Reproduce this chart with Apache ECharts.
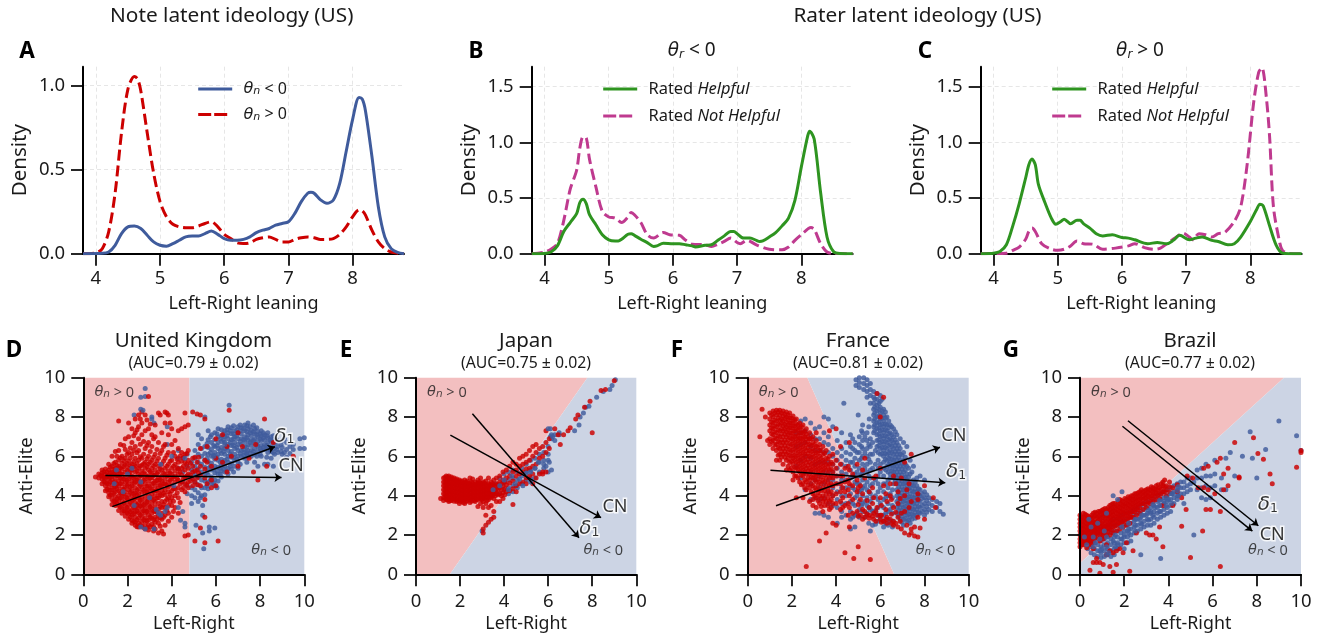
<!DOCTYPE html>
<html><head><meta charset="utf-8">
<style>html,body{margin:0;padding:0;background:#fff}#c{width:1332px;height:639px}</style>
<script src="https://cdn.jsdelivr.net/npm/echarts@6/dist/echarts.min.js"></script>
</head><body><div id="c"></div>
<script>
// ---------- density curves [leaning, density]
const noteNeg=[[3.8,0],[4.1,.002],[4.2,.01],[4.3,.05],[4.4,.12],[4.5,.16],[4.6,.165],[4.7,.15],[4.8,.11],[4.9,.07],[5,.05],[5.1,.045],[5.2,.06],[5.3,.08],[5.4,.1],[5.5,.105],[5.6,.105],[5.7,.12],[5.8,.135],[5.9,.115],[6,.09],[6.1,.08],[6.2,.08],[6.3,.085],[6.4,.1],[6.5,.125],[6.6,.14],[6.7,.15],[6.8,.17],[6.9,.18],[7,.19],[7.1,.24],[7.2,.31],[7.3,.36],[7.35,.365],[7.4,.36],[7.5,.32],[7.6,.3],[7.7,.32],[7.8,.42],[7.9,.61],[8,.8],[8.1,.93],[8.15,.92],[8.2,.85],[8.3,.58],[8.4,.28],[8.5,.1],[8.6,.03],[8.7,.008],[8.8,0]];
const notePos=[[3.8,0],[4,.005],[4.1,.03],[4.2,.13],[4.3,.36],[4.4,.72],[4.5,.98],[4.6,1.055],[4.65,1.04],[4.7,.97],[4.8,.72],[4.9,.48],[5,.31],[5.1,.22],[5.2,.175],[5.3,.16],[5.4,.155],[5.5,.155],[5.6,.165],[5.7,.18],[5.8,.19],[5.9,.16],[6,.115],[6.1,.09],[6.2,.065],[6.3,.06],[6.4,.065],[6.5,.085],[6.6,.095],[6.7,.1],[6.8,.085],[6.9,.07],[7,.07],[7.1,.085],[7.2,.095],[7.3,.1],[7.4,.095],[7.5,.085],[7.6,.085],[7.7,.09],[7.8,.115],[7.9,.16],[8,.22],[8.1,.26],[8.15,.255],[8.2,.23],[8.3,.14],[8.4,.07],[8.5,.03],[8.6,.01],[8.7,.003],[8.8,0]];
const leftHelpful=[[3.8,0],[4,.002],[4.1,.015],[4.2,.07],[4.3,.2],[4.4,.28],[4.5,.36],[4.55,.46],[4.6,.49],[4.65,.45],[4.7,.35],[4.8,.26],[4.9,.17],[5,.125],[5.1,.115],[5.15,.115],[5.2,.13],[5.3,.175],[5.35,.18],[5.4,.165],[5.5,.13],[5.6,.1],[5.7,.065],[5.75,.07],[5.85,.095],[6,.09],[6.1,.09],[6.2,.08],[6.3,.07],[6.35,.06],[6.5,.075],[6.6,.08],[6.7,.12],[6.8,.16],[6.9,.2],[6.95,.2],[7,.18],[7.1,.14],[7.2,.14],[7.3,.12],[7.35,.11],[7.4,.115],[7.5,.15],[7.6,.19],[7.7,.25],[7.8,.32],[7.9,.48],[8,.78],[8.1,1.06],[8.13,1.1],[8.2,1.03],[8.3,.55],[8.4,.15],[8.5,.02],[8.6,.002],[8.8,0]];
const leftNot=[[3.8,0],[4,.015],[4.1,.04],[4.2,.09],[4.3,.3],[4.4,.58],[4.5,.75],[4.55,.95],[4.6,1.05],[4.65,1.04],[4.7,.85],[4.8,.6],[4.9,.38],[5,.33],[5.1,.32],[5.2,.28],[5.3,.33],[5.35,.37],[5.4,.35],[5.5,.28],[5.6,.17],[5.7,.14],[5.85,.19],[5.95,.17],[6.1,.165],[6.2,.12],[6.3,.085],[6.5,.08],[6.6,.065],[6.7,.085],[6.8,.11],[6.9,.14],[7,.1],[7.05,.09],[7.15,.12],[7.3,.08],[7.5,.04],[7.7,.035],[7.8,.06],[7.9,.12],[8,.17],[8.15,.235],[8.2,.22],[8.3,.09],[8.4,.015],[8.5,.002],[8.8,0]];
const rightHelpful=[[3.8,0],[4,.005],[4.1,.02],[4.2,.08],[4.3,.25],[4.4,.45],[4.5,.68],[4.55,.8],[4.6,.85],[4.65,.8],[4.7,.62],[4.8,.46],[4.9,.32],[4.97,.265],[5.05,.29],[5.1,.31],[5.2,.27],[5.3,.3],[5.35,.3],[5.4,.27],[5.5,.23],[5.6,.18],[5.7,.16],[5.85,.17],[6,.145],[6.1,.14],[6.2,.125],[6.4,.09],[6.55,.1],[6.7,.09],[6.8,.12],[6.9,.165],[7.05,.125],[7.15,.14],[7.25,.15],[7.4,.12],[7.5,.11],[7.65,.08],[7.75,.09],[7.85,.15],[8,.29],[8.1,.4],[8.15,.445],[8.2,.43],[8.3,.25],[8.4,.08],[8.5,.005],[8.6,0],[8.8,0]];
const rightNot=[[3.8,0],[4.2,.005],[4.3,.03],[4.4,.06],[4.5,.13],[4.55,.2],[4.6,.23],[4.65,.2],[4.75,.09],[4.9,.04],[5,.03],[5.1,.04],[5.2,.07],[5.3,.115],[5.4,.09],[5.55,.085],[5.7,.04],[5.9,.05],[6.1,.07],[6.2,.09],[6.35,.055],[6.5,.04],[6.6,.05],[6.7,.09],[6.85,.15],[6.95,.185],[7.05,.15],[7.1,.125],[7.2,.18],[7.3,.17],[7.4,.15],[7.5,.18],[7.6,.19],[7.75,.29],[7.85,.42],[7.95,.8],[8.05,1.35],[8.13,1.63],[8.18,1.67],[8.25,1.4],[8.3,1.05],[8.36,.42],[8.45,.12],[8.5,.03],[8.6,.002],[8.8,0]];

// ---------- scatter clouds, one row per Left-Right value: [x, y, y, ...]
const ukBlueBack=[[2.8,9.45,9.05],[2.6,9,8.4],[3.1,8],[2.3,8.1],[3.2,7.7],[3.8,7.5,6.6],[4.3,6.3,5.9,5.4],[4.5,5.9,5.2,4.7],[4.7,6.1,5.5,5,4.5,4.1],[4.9,5.7,5.3,4.9,4.4,4,3.6],[5.05,6.3,5.9,5.5,5.1,4.7,4.3,3.9],[5.2,7.1,6.6,6.1,5.7,5.35,4.95,4.55,4.15,3.7],[5.35,6.9,6.4,6,5.6,5.2,4.8,4.4,4],[5.5,8,6.5,6.15,5.8,5.45,5.1,4.75,4.4,4.05],[5.65,7.3,6.85,6.45,6.1,5.75,5.4,5.05,4.7,4.35],[5.8,7.1,6.7,6.35,6,5.65,5.3,4.95,4.6],[5.95,7.2,6.85,6.5,6.2,5.85,5.5,5.15,4.8,4.5],[6.1,7.4,7,6.7,6.4,6.1,5.8,5.45,5.1,4.75],[6.25,7.35,7.05,6.75,6.45,6.15,5.85,5.55,5.25,4.95],[6.4,7.3,7,6.7,6.4,6.1,5.8,5.5,5.2],[6.55,7.5,7.2,6.9,6.6,6.3,6,5.7,5.4,5.1],[6.6,8.6],[6.7,7.45,7.15,6.85,6.55,6.25,5.95,5.65,5.35],[6.85,7.3,7,6.7,6.4,6.1,5.8,5.5],[7,7.5,7.2,6.9,6.6,6.3,6,5.7,5.4],[7.15,7.45,7.15,6.9,6.6,6.3,6],[7.3,7.6,7.3,7,6.75,6.5,6.2,5.9],[7.45,7.7,7.4,7.1,6.85,6.6,6.3,6],[7.6,7.3,7.05,6.8,6.55,6.3,6],[7.75,7.4,7.15,6.9,6.65,6.4,6.1,5.7],[7.9,7.25,7,6.75,6.5,6.25,5.5],[8.05,7.3,7.05,6.8,6.55,6.3,6],[8.2,7.1,6.85,6.6,6.35,5.6],[8.35,7.2,6.95,6.7,6.45,6.2,5.6],[8.5,7,6.75,6.5,6.25,5.9],[8.65,6.9,6.65,6.4,6.1],[8.8,6.75,6.5,6.2],[9,6.8,6.45,6.1],[9.2,6.7,6.35,5.95],[9.5,6.6,6.35],[9.8,6.9,6.4],[10,6.95,6.4],[5.4,3.5,3,2.1],[5.45,1.3],[5.7,2.4,2.2],[5.95,2.35],[4.6,2.6,2.4],[4.4,2.75],[5.1,2.5]];
const ukBlueFill=[[5.6,6.65,5.9,5.2,4.5],[5.75,7,6.2,5.5,4.8],[5.9,6.55,6.05,5.35,4.65],[6.05,7.15,6.55,5.95,5.25,4.4],[6.2,6.9,6.3,5.7,5.1],[6.35,7.15,6.85,6.25,5.65,5.35],[6.5,7.35,7.05,6.45,5.85,5.25],[6.65,7.3,6.7,6.1,5.5],[6.8,7.55,7.15,6.55,5.95,5.2],[6.95,7.35,7.05,6.45,5.85],[7.1,7.6,7.3,6.75,6.15,5.6],[7.25,7.4,6.85,6.35,6.05],[7.4,7.55,7.25,6.95,6.45,6.1,5.7],[7.55,7.5,7.2,6.7,6.15],[7.7,7.6,7.25,6.8,6.25],[7.85,7.45,7.1,6.6,6],[8,7.15,6.9,6.4,6.1],[8.15,7.2,6.95,6.45],[8.3,7.05,6.55,5.95],[8.45,6.85,6.35],[8.6,7.05,6.75,6.2,5.5],[8.75,6.85,6.35],[8.95,6.6,6.25],[9.1,6.9,6.2],[9.35,6.5,6.15]];
const ukRed=[[.55,4.95],[.7,5.1,4.9],[.85,5.3,5.15,5,4.85,4.6],[1,5.35,5.1,4.9,4.7,4.5,4.25],[1.15,5.6,5.3,5.05,4.85,4.6,4.4,4.15,3.95],[1.3,6,5.5,5.2,5,4.8,4.55,4.3,4.05,3.8,3.55],[1.45,6.25,5.7,5.4,5.15,4.9,4.7,4.45,4.2,3.95,3.7,3.5],[1.6,7.8,6.3,5.8,5.5,5.25,5,4.75,4.5,4.25,4,3.75,3.5,3.25],[1.75,6,5.65,5.35,5.1,4.85,4.6,4.35,4.1,3.85,3.6,3.35,3.1],[1.9,6.9,6.35,5.9,5.55,5.2,4.95,4.7,4.45,4.2,3.95,3.7,3.45,3.2,2.95],[2.05,7.7,7,6.2,5.75,5.4,5.1,4.85,4.6,4.3,4.05,3.8,3.55,3.3,3.05,2.8],[2.2,7.4,6.7,6.1,5.6,5.3,5,4.75,4.5,4.25,4,3.75,3.5,3.25,3,2.75,2.6],[2.35,7.9,7.2,6.5,5.9,5.5,5.2,4.95,4.7,4.4,4.15,3.9,3.65,3.4,3.15,2.9,2.65,2.5],[2.5,8.1,7.5,6.9,6.3,5.8,5.4,5.1,4.85,4.6,4.35,4.1,3.85,3.6,3.35,3.1,2.85,2.6,2.4],[2.65,8.25,7.7,7.1,5.9,5.55,5.25,5,4.7,4.45,4.2,3.95,3.7,3.45,3.2,2.95,2.7,2.45],[2.8,8.1,7.3,6.4,5.7,5.4,5.1,4.85,4.6,4.35,4.1,3.85,3.6,3.35,3.1,2.85,2.6,2.3],[2.95,9.05,7.4,6.7,6,5.6,5.3,5,4.75,4.5,4.25,4,3.75,3.5,3.25,3,2.75,2.5,2.25],[3.1,7.1,6.5,5.8,5.4,5.15,4.9,4.6,4.35,4.1,3.85,3.6,3.35,3.1,2.85,2.55],[3.25,7.6,7,6.1,5.6,5.3,5.05,4.75,4.5,4.25,4,3.7,3.45,3.2,2.9,2.65,2.3],[3.4,8.2,6.7,5.9,5.5,5.2,4.9,4.65,4.4,4.15,3.9,3.6,3.3,3,2.6,2.1],[3.55,7.2,6.3,5.6,5.3,5,4.75,4.5,4.25,4,3.7,3.4,3.1,2.8,2.2],[3.7,8.25,7.7,6.6,5.9,5.4,5.1,4.85,4.6,4.3,4.05,3.7,3.4,3,2.5],[3.85,8.1,7.1,6.2,5.6,5.25,5,4.7,4.45,4.2,3.9,3.5,3.1,2.7],[4,7.4,6.6,5.8,5.4,5.1,4.85,4.55,4.25,3.9,3.5,2.9],[4.15,6.8,6,5.6,5.25,5,4.7,4.35,4,3.4],[4.3,7.3,6.4,5.7,5.35,5.1,4.8,4.4,3.9,3.1],[4.45,7.4,6.2,5.75,5.4,5.05,4.7,4.3],[4.6,8.2,7.5,6.1,5.7,5.3,4.95,4.6,4.2,1.95],[4.75,7.6,6.3,5.8,5.4,5.1,4.7,4.4,2],[4.95,8.25,5.9,5.5,5.2,4.85,4.5],[5.05,1.7],[5.15,8.15,5.7,5.3,4.9,4.55],[5.3,8.1,6.4,5.5,5.05,4.5,2.35],[5.5,7.9,5.8,5.35,4.9,3.8,2.9,1.6],[5.6,6.5,5.7,4.6],[5.8,5.5,4.8,4.4],[6,6.9,5.9,4.5],[6.1,1.7],[6.3,7.1,5.7],[6.5,6.5,5.2],[6.6,8.35],[6.7,6],[7,7.2,5.5],[7.2,6.5],[7.5,5.9],[7.7,5.2],[7.8,6.6],[7.9,4.8],[8.2,7.9],[8.3,5.5],[8.6,6.7],[9.5,6]];
const ukRedFill=[[.78,5.02],[.93,5.22,4.92,4.72],[1.07,5.2,4.97,4.62,4.33],[1.22,5.44,5.17,4.93,4.7,4.27,4.02],[1.38,5.63,5.33,5.09,4.67,4.42,4.13,3.71],[1.52,6,5.55,5.27,5.03,4.58,4.34,3.83,3.6],[1.68,6.6,5.92,5.42,5.13,4.88,4.62,4.15,3.9,3.42],[1.83,6.55,5.78,5.47,4.83,4.32,4.07,3.62,3.23],[1.98,6.1,5.63,5.29,4.77,4.52,3.88,3.4,3.13],[2.13,6.42,5.92,5.52,5.22,4.97,4.43,4.17,3.67,3.18,2.92],[2.28,7.05,6.3,5.72,5.44,4.88,4.62,4.08,3.83,3.38,3.08,2.7],[2.43,7.35,6.18,5.63,5.27,4.78,4.28,4.02,3.52,3.22,2.78,2.42],[2.58,7.9,6.62,5.98,5.5,5.03,4.53,3.78,3.48,3.02,2.52],[2.73,6.75,6.1,5.62,5.17,4.78,4.28,3.53,3.23,2.78,2.38],[2.88,7.85,6.55,5.88,5.48,4.97,4.48,4.18,3.68,3.2,2.72,2.38],[3.03,7.65,6.25,5.7,5.22,4.88,4.4,3.92,3.42,2.92,2.42],[3.18,6.9,5.95,5.52,5.02,4.65,4.22,3.78,3.22,2.78,2.42,2.2],[3.33,6.35,5.75,5.12,4.78,4.28,3.88,3.15,2.8],[3.48,8.1,6.15,5.38,4.82,4.52,4.03,3.45,2.88,2.45],[3.63,6.5,5.75,5.15,4.62,4.12,3.55,2.9,2.05],[3.78,8.2,6.05,5.5,5,4.52,3.82,3.25],[3.93,7.7,5.75,5.15,4.78,4.08,3.7],[4.08,6.2,5.5,4.95,4.35,3.72,3.2],[4.25,5.85,5.42,4.85,4.15],[4.38,6,5.2,4.6,3.65],[4.53,5.95,5.5,4.85,4.4],[4.68,6.15,5.6,5,4.55],[4.85,5.65,5.05,4.75],[5.05,5.95,5.25,4.7],[5.22,5.95,5.15]];
const ukBlueFront=[[1.4,4.6],[1.8,4.2],[2,5.1],[2.3,3.5],[2.6,4.7],[2.6,2.4],[2.8,2.3],[3,3.9],[3.2,2.3],[3.3,3.3],[3.4,3.1],[3.5,3],[3.7,3.2],[3.8,3.4],[4,6],[4.1,4.5],[4.3,3.4],[4.5,3.2],[4.6,5.9],[2.7,8.35],[1.5,5.3],[2.2,5.4],[3.5,5.6],[3.1,7.9],[5.3,3.9],[6.4,6.6],[7.4,6.2],[6.8,6.9],[5.9,6],[6.2,5.4]];

const jpBlueBack=[[3.4,4.2,4],[3.6,4.6,4.2],[3.8,4.9,4.5,4.1],[4,5.1,4.7,4.3],[4.2,5.2,4.8,4.4,4.1],[4.4,5.3,4.9,4.5,4.2],[4.6,5.2,4.8,4.4],[4.8,5.4,5,4.6],[5,5.6,5.2,4.8],[5.2,5.8,5.3,4.9],[5.4,5.9,5.4,4.9],[5.6,6.1,5.7,5.2],[5.8,6.2,5.8,5.4],[6,6.5,6.1,5.8,5.2],[6.15,7.1,6.9,5.3],[6.3,7.1,6.8],[6.1,7.4,7],[6.5,7.2,7.1],[7.2,7.3],[7.4,7.6],[7.45,8],[7.6,8.2],[7.7,8.5],[7.85,8.55],[8.2,9],[8.5,9.3],[8.8,9.4],[8.9,9.6],[9.05,9.9],[3,2.2]];
const jpRed=[[1.12,3.85],[1.25,4.9,4.7,4.5,4.3,4.1,3.9,3.75],[1.37,5,4.8,4.6,4.4,4.2,4,3.8],[1.49,5,4.85,4.65,4.45,4.25,4.05,3.85,3.7],[1.61,4.95,4.75,4.55,4.35,4.15,3.95,3.75],[1.73,4.9,4.7,4.5,4.3,4.1,3.9,3.72],[1.85,4.85,4.65,4.45,4.25,4.05,3.85,3.7],[1.97,4.8,4.6,4.4,4.2,4,3.8,3.6],[2.09,4.75,4.55,4.35,4.15,3.95,3.75],[2.21,4.8,4.6,4.4,4.2,4,3.8,3.6],[2.33,4.75,4.55,4.35,4.15,3.95,3.75],[2.45,4.9,4.6,4.4,4.2,4,3.8,3.65],[2.57,4.85,4.65,4.45,4.25,4.05,3.85],[2.69,4.7,4.5,4.3,4.1,3.9,3.7],[2.81,4.8,4.6,4.4,4.2,4,3.8,3.45],[2.93,4.9,4.65,4.45,4.25,4.05,3.85,3.6],[3.05,4.7,4.5,4.3,4.1,3.9,3.7,3.4,2.3,2.1],[3.17,4.75,4.55,4.35,4.15,3.95,3.6,3,2.5],[3.29,4.9,4.6,4.4,4.2,4,3.8,3.4,2.65],[3.41,4.7,4.5,4.3,4.1,3.9,3.5,2.8],[3.53,4.8,4.55,4.3,4.1,3.85,3.2,2.9],[3.65,4.9,4.6,4.35,4.1,3.7],[3.8,5,4.7,4.4,4.1,3.7],[3.95,5.2,4.8,4.5,4.15,3.85],[4.1,5.3,4.9,4.55,4.2],[4.25,5.5,5,4.65,4.25],[4.4,5.7,5.2,4.75,4.35,3.55],[4.55,5.6,5.3,5,4.5,4.2],[4.7,5.9,5.5,5.1,4.6],[4.85,6,5.6,5.2,4.7],[5,6.1,5.7,5.35,4.9,4.6],[5.15,6.3,5.8,5.4,5],[5.3,6.5,6,5.5,5.1,4.6],[5.45,6.6,6.2,5.6,4.9],[5.6,6.4,5.9,5.1],[5.75,6.5,6,5.2,5.1],[5.9,7.3,6.7,6.2,5.2],[6.05,6.9,6.4],[6.3,7.4],[6.45,7.1],[6.55,6.6],[6.7,7.1],[6.9,7.3],[7,7.45],[7.25,7.9],[7.35,8.1],[7.65,8.5],[7.9,8.8],[8,7.2],[8.4,9.35],[8.6,9.4],[9,9.85]];
const jpRedFill=[[1.31,4.92,4.7,4.5,4.3,4.1,3.9],[1.43,4.95,4.75,4.55,4.35,4.15,3.95,3.78],[1.55,4.9,4.7,4.5,4.3,4.1,3.9,3.75],[1.67,4.85,4.65,4.45,4.25,4.05,3.85],[1.79,4.8,4.6,4.4,4.2,4,3.8],[1.91,4.75,4.55,4.35,4.15,3.95,3.75],[2.03,4.7,4.5,4.3,4.1,3.9,3.7],[2.15,4.65,4.45,4.25,4.05,3.85,3.65],[2.27,4.7,4.5,4.3,4.1,3.9,3.7],[2.39,4.65,4.45,4.25,4.05,3.85],[2.51,4.7,4.5,4.3,4.1,3.9,3.72],[2.63,4.55,4.35,4.15,3.95,3.75],[2.75,4.6,4.4,4.2,4,3.8],[2.87,4.7,4.5,4.3,4.1,3.9],[2.99,4.6,4.4,4.2,4,3.8],[3.11,4.65,4.45,4.25,4.05,3.85],[3.23,4.5,4.3,4.1,3.9,3.75],[3.35,4.55,4.35,4.15,3.95],[3.47,4.6,4.4,4.2,4],[3.6,4.45,4.25,4],[3.72,4.55,4.3,4.05],[3.88,4.6,4.3,4],[4.03,4.7,4.35,4.05]];
const jpBlueFront=[[3.5,4.3],[3.8,4.5],[4,4.8],[4.2,4.3],[4.35,5],[4.5,4.6],[4.7,4.85],[4.85,4.5],[5,5.15],[5.2,4.7],[5.4,5.4],[5.55,5.7],[5.8,5.6],[5.9,5.5],[6.05,5.7],[6.2,7],[6,7.4],[5.2,5.2]];

const frRed=[[.55,7],[.65,8.4],[.8,8],[.9,6.8],[1,8.2,7.9,7.6,7.3,6.9,6.6],[1.15,8.3,8,7.7,7.4,7.1,6.8,6.4],[1.3,8.35,8.1,7.8,7.5,7.2,6.9,6.6,6.3,5.8],[1.45,8.35,8.1,7.85,7.6,7.3,7,6.7,6.4,6.1,5.8],[1.6,8.3,8.05,7.8,7.55,7.3,7,6.7,6.4,6.1,5.6],[1.75,8.25,8,7.75,7.5,7.25,7,6.7,6.4,6.1,5.8,5.3],[1.9,8.2,7.95,7.7,7.45,7.2,6.95,6.65,6.35,6.05,5.7,5.3],[2.05,8.05,7.8,7.55,7.3,7.05,6.8,6.5,6.2,5.9,5.6,5.2,4.8],[2.2,7.9,7.65,7.4,7.15,6.9,6.6,6.3,6,5.7,5.4,5,3.9],[2.35,7.7,7.45,7.2,6.95,6.7,6.4,6.1,5.8,5.5,5.2,4.7],[2.5,7.6,7.3,7.05,6.8,6.5,6.2,5.9,5.6,5.3,5,4.6,3.9],[2.65,7.4,7.15,6.9,6.6,6.3,6,5.7,5.4,5.1,4.7,4.3,.4],[2.8,7.2,6.9,6.6,6.3,6,5.7,5.4,5.1,4.8,4.4,3.7],[2.95,7,6.7,6.4,6.1,5.8,5.5,5.2,4.9,4.5,4.1,3.8,3.5],[3.1,7.2,6.8,6.5,6.2,5.9,5.6,5.3,5,4.7,4.3,3.9,3.4],[3.25,6.6,6.3,6,5.7,5.4,5.1,4.7,4.3,4,3.6,1.7],[3.4,6.5,6.1,5.8,5.5,5.2,4.8,4.4,4,3.7,3.2],[3.55,6.3,5.9,5.6,5.3,4.9,4.5,4.1,3.7,2.1],[3.7,7.3,6,5.6,5.3,4.9,4.5,4.1,3.7,3.3],[3.85,6.1,5.6,5.2,4.9,4.5,4,3.6,2.6],[1.08,8.1,7.75,7.45,7.15,6.75],[1.22,8.2,7.85,7.55,7.25,6.95,6.6],[1.38,8.25,7.95,7.65,7.35,7.05,6.75,6.45,6.05],[1.53,8.2,7.9,7.7,7.4,7.15,6.85,6.55,6.25,5.95],[1.68,8.15,7.92,7.62,7.38,7.12,6.82,6.55,6.25,5.95],[1.83,8.1,7.85,7.6,7.35,7.1,6.85,6.5,6.2,5.9,5.5],[1.98,7.95,7.7,7.45,7.18,6.9,6.6,6.3,6,5.75,5.4],[2.13,7.85,7.55,7.3,7,6.7,6.4,6.05,5.8,5.45,5],[2.28,7.6,7.35,7.05,6.8,6.5,6.2,5.9,5.6,5.3,4.9],[2.43,7.5,7.2,6.9,6.6,6.3,6,5.7,5.4,5.05,4.55],[2.58,7.25,7,6.7,6.4,6.1,5.8,5.5,5.2,4.8,4.4],[2.73,7,6.75,6.45,6.15,5.85,5.55,5.25,4.9,4.55],[2.88,6.9,6.55,6.25,5.95,5.6,5.3,4.95,4.6,4.2],[3.03,6.6,6.3,6,5.7,5.4,5.05,4.8,4.4,4],[3.18,6.45,6.15,5.8,5.5,5.2,4.85,4.5,4.15,3.75],[3.33,6.3,5.9,5.6,5.3,4.95,4.6,4.25,3.85,3.45],[3.48,6.15,5.7,5.4,5.05,4.7,4.25,3.85,3.5],[3.63,5.85,5.5,5.1,4.7,4.3,3.9,3.5],[3.78,5.7,5.35,5,4.6,4.2,3.8,3.4]];
const frBlue=[[4.9,9.9,9.6],[5.05,10,9.75,9.5],[5.25,10,9.7,9.4],[5.4,9.9,9.6,9.3,9],[5.55,9.7,9.4,9.1,8.7],[5.7,9.3,9,8.7,8.4,8.1,7.8,7.5,7.2],[5.85,9.2,8.9,8.6,8.3,8,7.7,7.4,7.1,6.8,6.5],[6,9.1,8.8,8.5,8.2,7.9,7.6,7.3,7,6.7,6.4,6.1],[6.15,8.4,8.1,7.8,7.5,7.2,6.9,6.6,6.3,6,5.7],[6.3,8,7.6,7.3,7,6.7,6.4,6.1,5.8,5.5],[6.45,7.6,7.2,6.9,6.6,6.3,6,5.7,5.4,5.1],[6.6,7.4,7,6.7,6.4,6.1,5.8,5.5,5.2,4.9,4.6],[6.75,7.1,6.7,6.4,6.1,5.8,5.5,5.2,4.9,4.6,4.3,4,3.7,3.4,3.1],[6.9,6.9,6.4,6.1,5.8,5.5,5.2,4.9,4.6,4.3,4,3.7,3.4,3.1,2.8],[7.05,6.7,6.2,5.8,5.5,5.2,4.9,4.6,4.3,4,3.7,3.4,3.1,2.8,2.5],[7.2,6.5,5.5,5.1,4.8,4.5,4.2,3.9,3.6,3.3,3,2.7],[7.35,5.8,5.1,4.7,4.4,4.1,3.8,3.5,3.2,2.9,2.6],[7.5,5.5,4.8,4.5,4.2,3.9,3.6,3.3,3],[7.65,4.9,4.5,4.2,3.9,3.6,3.3,3],[7.8,5,4.3,4,3.7,3.4,3.1],[8,4.8,4.2,3.9,3.6,3.3,3],[8.2,3.9,3.6,3.3],[8.35,3.8,3.5,3.2],[8.55,3.7,3.4],[8.7,3.6,3.2],[8.85,3.05],[5.5,7.9],[4.35,8.7],[5,8.1],[5.2,7.6,7.2,6.8,6.4,6,5.6,5.2,4.8,4.4,4,3.6,3.2],[5.4,7.2,6.8,6.4,6,5.6,5.2,4.7,4.3,3.9,3.5,3.1],[5.55,6.9,6.5,6.1,5.7,5.3,4.9,4.5,4.1,3.7,3.3,2.2],[5.05,7,6.6,6.2,5.8,5.4,5,4.6,4.2,3.7,3.3,2.9],[4.85,6.7,6.3,5.9,5.5,5.1,4.7,4.3,3.9,3.5,3,2.4],[4.65,7.1,6.5,6.1,5.7,5.3,4.9,4.5,4.1,3.7,3.2,2.8,2.3],[4.45,6.7,6.2,5.8,5.5,5.1,4.8,4.4,4,3.6,3],[4.25,7.2,6.4,6,5.6,5.2,4.8,4.4,4,3.6,3.2,2.9],[4.05,6.8,6.2,5.8,5.4,5,4.6,4.2,3.8,3.4,2.6],[3.85,7.5,6.4,6,5.6,5.2,4.8,4.4,4,3.5],[3.65,7.9,7,6.6,6.2,5.7,5.2,4.8,4.2,3.6,2.9],[3.45,8,7.2,6.7,6.2,5.7,5.2,4.6,3.9,3],[3.25,7.5,6.9,6.3,5.7,5,4.4,3.8,3.1],[3.05,7.4,6.9,6.3,5.6,4.8,3.9,3.1],[2.85,7.7,7.1,6.5,5.9,5.2,4.6,3.8],[2.6,7.9,7.3,6.7,6,5.2,4.3],[2.4,7.8,7.2,6.6,5.8,4.9],[2.2,7.2,6.5,5.5],[5.9,6.2,5.8,5.4,5,4.6,4.2,3.8,3.4,3,2.7],[6.15,5.4,5,4.6,4.2,3.8,3.4,3,2.7,2.4],[6.35,5.2,4.8,4.4,4,3.6,3.2,2.8,2.5],[6.55,4.3,3.9,3.5,3.1,2.7,2.4]];
const frBlueFill=[[5.75,8.9,8.5,8.2,7.9,7.6,7.3],[5.93,8.7,8.4,8.05,7.75,7.45,7.15,6.85,6.55],[6.08,8.9,8.3,7.95,7.65,7.35,7.05,6.75,6.45,6.15],[6.23,8.25,7.95,7.65,7.35,7.05,6.75,6.45,6.15,5.85],[6.38,7.8,7.45,7.15,6.85,6.55,6.2,5.9,5.6],[6.52,7.5,7.1,6.8,6.5,6.2,5.85,5.55,5.25],[6.68,7.25,6.85,6.55,6.25,5.95,5.65,5.35,5.05,4.75],[6.83,6.55,6.25,5.95,5.65,5.35,5.05,4.75,4.45,4.15,3.85,3.55,3.25,2.95],[6.98,6.05,5.65,5.35,5.05,4.75,4.45,4.15,3.85,3.55,3.25,2.95,2.65],[7.13,5.95,5.6,5.3,4.95,4.65,4.35,4.05,3.75,3.45,3.15,2.85],[7.28,5.4,4.95,4.65,4.35,3.95,3.65,3.35,3.05,2.75],[7.43,5.2,4.55,4.25,3.95,3.65,3.35,3.05,2.8],[7.58,4.7,4.35,4.05,3.75,3.45,3.15,2.85],[7.73,4.35,4.05,3.75,3.45,3.15],[7.9,4.1,3.85,3.5,3.2],[8.1,4.05,3.75,3.45,3.15],[4.75,6.9,6.4,5.7,5,4.4,3.6,2.9],[4.95,6.2,5.2,4.6,4,3.1],[5.15,7.3,6.5,5.9,5.1,4.3,3.5],[5.3,7,6.2,5.4,4.5,3.7,2.9],[5.48,7.5,6.6,5.85,5,4.2,3.4,2.6],[5.65,6.7,6.1,5.4,4.6,3.9,3.2,2.5],[5.78,6.3,5.6,4.8,4,3.25,2.55],[6,5.6,5.2,4.4,3.6,2.9],[6.25,5.3,4.6,3.9,3.1,2.6],[6.45,4.9,4.1,3.3,2.7]];
const frRedTop=[[4,7.4,5.8,5.4,5,4.6,4.1,3.6,2.5],[4.2,6.5,5.6,5,4.6,4.2,3.7,3.3],[4.4,5.4,4.7,4.2,3.5,1.1],[4.6,6.7,5.3,4.6,4,3.4,2.4],[4.8,.8],[4.95,5.6,4.8,4.2,3.2],[5,1.4],[5.1,4.5,3.8,3],[5.3,5.9,4.9,3.2,2.9],[5.5,4.2,3.4,3,2.85],[5.55,.75],[5.7,4.9,3.9,3.1,2.8],[5.85,9.2,3.4,3],[6,8,5.4,3.9,3,2.8],[6.15,9,4.5,2.7],[6.3,3.7,2.9,2.6],[6.45,4.6,4,2.8],[6.6,5,3.4,2.7,2.5],[6.8,4.2,3.6,2.9,2.4],[6.95,4.9,3.1,2.3],[7.1,5.7,4,3.2,2.1],[7.3,4.6,3.4,2],[7.4,6.1,2.1],[7.55,1.95,2.4],[7.7,3.8,1.9],[7.8,2.35],[8,4.5,2.8],[8.4,3.9],[8.5,3.4],[4.3,5,4.4,3.9,3.4],[4.55,5.5,4.8,4.3,3.6,3],[4.75,5.1,4.5,3.8,3.1],[5,4.4,3.55,2.95],[5.2,5.3,4.1,3.3,2.8],[5.4,3.75,3.05],[5.65,4.4,3.6,2.95],[5.8,5,3.2,2.7],[6.05,3.5,3,2.65],[6.25,4.1,3.3,2.8],[6.5,3.8,3.05,2.6],[6.7,4.6,3.15,2.6],[6.9,3.85,2.7],[7.2,4.3,2.5],[7.4,3.7,2.3],[7.7,4.1,2.9]];

const brBlueBack=[[.2,2.1,1.7],[.35,2.2,1.9,1.6,1.3],[.5,2.3,2,1.7,1.4,1.1],[.65,2.2,1.9,1.6,1.3,1],[.8,2.4,2.1,1.8,1.5,1.2,.9],[.95,2.3,2,1.7,1.4,1.1,.85],[1.1,2.4,2.1,1.8,1.5,1.2,.9],[1.25,2.5,2.2,1.9,1.6,1.3,1],[1.4,2.7,2.4,2.1,1.8,1.5,1.2,.9],[1.55,2.8,2.5,2.2,1.9,1.6,1.3,1],[1.7,2.8,2.5,2.2,1.9,1.6,1.3],[1.85,3,2.7,2.4,2.1,1.8,1.5],[2,3.1,2.8,2.5,2.2,1.9,1.6,1.3],[2.15,3.1,2.8,2.5,2.2,1.9,1.6],[2.3,3.2,2.9,2.6,2.3,2,1.7],[2.45,3.3,3,2.7,2.4,2.1],[2.6,3.4,3.1,2.8,2.5,2.2],[2.75,3.5,3.2,2.9,2.6,2.3,1],[2.9,3.6,3.3,3,2.7,2.4],[3.05,3.7,3.4,3.1,2.8,2.5],[3.2,3.7,3.4,3.1,2.8,2.5],[3.35,3.8,3.5,3.2,2.9,2.6],[3.5,4,3.7,3.4,3.1,2.8],[3.65,4.1,3.8,3.5,3.2,2.9,.8],[3.8,4.2,3.9,3.6,3.3,3],[3.95,4.3,4,3.7,3.4,3.1],[4.1,4.4,4.1,3.8,3.5,3.2],[4.25,4.5,4.2,3.9,3.6],[4.4,4.6,4.3,4,3.8],[4.55,4.7,4.4,4.1],[4.7,4.7,4.4,4.1,3.6],[4.85,4.9,4.5,4.2],[5,4.6,4.3,4.9],[5.15,4.7,2],[5.3,5.3,4.9,4.3],[5.5,5.4,4.9,4.4,3.9],[5.7,5.6,5,4.5,3.8],[5.9,5,4.4,3.9],[6.1,5.8,5.1,4.5],[6.4,4.9,4.3],[6.6,5.9,4.3],[6.8,6.2],[7,5],[7.35,6],[7.7,7.25],[7.8,5.9],[8,4.9],[8.4,6.35],[9,7.8],[9.8,7.05],[10,6.3]];
const brRed=[[0,3,2.8,2.6,2.4,2.2,2,1.8,1.6,1.4],[.15,3.1,2.9,2.7,2.5,2.3,2.1,1.9,1.7,1.5],[.3,3,2.8,2.6,2.4,2.2,2,1.8,1.6,1.35],[.45,2.9,2.7,2.5,2.3,2.1,1.9,1.7,1.5,.2],[.6,3.1,2.9,2.7,2.5,2.3,2.1,1.9,1.7,1.3,.6],[.75,3.1,2.9,2.7,2.5,2.3,2.1,1.9,.6,.8],[.9,3.2,3,2.8,2.6,2.4,2.2,2,1.7,.6,.05],[1.05,3.3,3.1,2.9,2.7,2.5,2.3,2.1,1.8,.5],[1.2,3.3,3.1,2.9,2.7,2.5,2.3,2,1.5,1],[1.35,3.5,3.3,3.1,2.9,2.7,2.5,2.3,2,1.2,.4],[1.5,3.6,3.4,3.2,3,2.8,2.6,2.4,2.1,1.1,.1],[1.65,3.5,3.3,3.1,2.9,2.7,2.5,2.2,1.2,.5],[1.8,3.8,3.6,3.4,3.2,3,2.8,2.6,2.3,1.3],[1.95,3.7,3.5,3.3,3.1,2.9,2.7,2.4,1.1],[2.1,3.8,3.6,3.4,3.2,3,2.8,2.5,1.6],[2.25,3.9,3.7,3.5,3.3,3.1,2.9,2.6,.15],[2.4,4,3.8,3.6,3.4,3.2,2.9,1.2],[2.55,4.1,3.9,3.7,3.5,3.3,3,2.1],[2.7,4.2,4,3.8,3.6,3.4,3.1],[2.85,4.2,4,3.8,3.6,3.3],[3,4.3,4.1,3.9,3.7,3.4,2.1],[3.15,4.3,4.1,3.9,3.6,2],[3.3,4.4,4.2,4,3.7,2],[3.45,4.5,4.3,4.1,3.8,1.8],[3.6,4.4,4.15,3.9,2.4],[3.75,4.7,4.5,4.2,3.5,1.4],[3.9,4.5,4.3,4],[4.05,4.7,4.45,4.2],[4.2,4.4,3.5],[4.4,4.55,4.2],[4.6,3.9,2.45],[4.8,3.3],[4.85,5],[5,.85],[5.1,4.9],[5.35,4.4],[5.55,2.2],[5.6,5.4,4.4],[5.7,3.3],[5.8,5.5,4.3],[5.9,3.3],[6.1,4.1],[6.2,5.7],[6.35,5.9,3.2,.4],[6.5,5.1,4.3],[6.7,5.4,4.5],[7,6.7],[7.2,4.95,4.9],[7.85,6.95],[8.05,6.15],[8.3,5.85],[8.6,5.1],[8.7,4.6],[9.8,5.45],[10,6.3,6.2]];
const brRedFill=[[.08,2.9,2.7,2.5,2.3,2.1,1.9,1.7,1.5],[.23,3.05,2.85,2.65,2.45,2.25,2.05,1.85,1.6],[.38,2.95,2.7,2.5,2.3,2.1,1.85,1.65],[.53,3,2.8,2.6,2.4,2.2,2,1.8,1.55],[.68,3.15,2.95,2.65,2.45,2.25,2.05,1.85],[.83,3.2,2.95,2.75,2.55,2.3,2.1],[.98,3.25,3.05,2.85,2.6,2.4,2.15,1.9],[1.13,3.35,3.1,2.95,2.7,2.45,2.2,1.95],[1.28,3.4,3.2,3,2.8,2.55,2.35,2.15],[1.43,3.55,3.35,3.15,2.95,2.75,2.55,2.25],[1.58,3.6,3.4,3.2,2.95,2.7,2.45],[1.73,3.7,3.45,3.25,3.05,2.85,2.6],[1.88,3.75,3.55,3.35,3.15,2.9,2.65],[2.03,3.85,3.6,3.45,3.2,3,2.7],[2.18,3.95,3.75,3.55,3.35,3.1,2.85],[2.33,4,3.8,3.6,3.4,3.15,2.9],[2.48,4.1,3.85,3.65,3.45,3.2],[2.63,4.15,3.95,3.75,3.55,3.3],[2.78,4.3,4.1,3.85,3.6],[2.93,4.25,4.05,3.85,3.55],[3.08,4.35,4.15,3.95,3.65],[3.23,4.45,4.25,4,3.8],[3.38,4.35,4.15,3.95],[3.53,4.55,4.3,4.05],[3.68,4.6,4.35,4.1],[3.83,4.8,4.45,4.2]];
const brBlueFront=[[.3,1.5],[.7,1.6],[1,1.3],[1.1,2.2],[1.3,1.1],[1.5,1.7],[1.7,3.8,1.5],[2,2],[2.2,2.3,2.6,2.1],[2.5,2.5,2.8,2.2],[2.7,2.8],[2.8,3,2.55],[3,3],[3.1,3.25,2.75],[3.2,3.2],[3.3,3.55,3],[3.4,3.4],[3.6,3.5,3.75,3.2],[3.8,3.7],[3.9,3.9,3.5],[4,3.8],[4.15,4.1,3.6],[4.2,4.1],[4.4,4.25],[4.45,4.45,4],[.8,2.6],[.4,2.8],[1.2,3.1,1.9,1.4,1],[1.5,4],[1.9,4.2,2.4,1.8],[1.6,2,1.4],[.9,1.8,1.2],[.6,1.9,1.4],[.2,1.9],[.5,2.4]];

// ---------- regions (polygons in data coordinates) and arrows [x0,y0,x1,y1]
const ukPink=[[0,0],[4.8,0],[4.8,10],[0,10]], ukSlate=[[4.8,0],[10,0],[10,10],[4.8,10]];
const jpPink=[[0,0],[1.54,0],[7.78,10],[0,10]], jpSlate=[[1.54,0],[10,0],[10,10],[7.78,10]];
const frPink=[[0,0],[6.63,0],[2.7,10],[0,10]], frSlate=[[6.63,0],[10,0],[10,10],[2.7,10]];
const brPink=[[0,.56],[9.23,10],[0,10]], brSlate=[[0,0],[10,0],[10,10],[9.23,10],[0,.56]];
const ukArrows=[[1,5.02,8.97,4.93],[1.31,3.44,8.67,6.49]];
const jpArrows=[[1.56,7.08,8.4,2.88],[2.56,8.17,7.4,1.86]];
const frArrows=[[1.03,5.29,8.94,4.66],[1.28,3.49,8.7,6.46]];
const brArrows=[[2.17,7.81,8.07,2.47],[1.92,7.53,7.8,2.2]];

// ---------- labels
const densityTicks=[4,5,6,7,8], noteYTicks=[0,.5,1], raterYTicks=[0,.5,1,1.5];
const panelLetters=[['A',27,50],['B',476,50],['C',925,50],['D',14,349],['E',346,349],['F',677,349],['G',1011,349]];
const countries=[['United Kingdom','(AUC=0.79 ± 0.02)',193.5],['Japan','(AUC=0.75 ± 0.02)',526],['France','(AUC=0.81 ± 0.02)',858],['Brazil','(AUC=0.77 ± 0.02)',1190]];

const FONT='"Noto Sans"', MATH='"DejaVu Sans"', INK='#1a1a1a';
const BLUE='#3f5b9c', RED='#cc0000', GREEN='#2e9420', MAG='#bf3a8f';
const expand=rows=>rows.flatMap(r=>r.slice(1).map(y=>[r[0],y]));

const legendRich={
  pad:{width:6.3},
  th:{fontFamily:MATH,fontStyle:'italic',fontSize:16,color:INK},
  sub:{fontFamily:MATH,fontStyle:'italic',fontSize:11,color:INK,verticalAlign:'bottom',lineHeight:16,padding:[5,0,0,0]},
  op:{fontFamily:FONT,fontSize:16,color:INK},
  hi:{fontFamily:FONT,fontStyle:'italic',fontSize:16.4,color:INK},
  no:{fontFamily:FONT,fontSize:16.4,color:INK}
};
const theta=(s,c)=>`{th|θ}{sub|${s}}{op| ${c} 0}`;
const rated=n=>n.includes('Not')?'{pad|}{no|Rated }{hi|Not Helpful}':'{pad|}{no|Rated }{hi|Helpful}';

const grid=[],xAxis=[],yAxis=[],series=[],title=[],legend=[];
function axisCommon(margin,z){return{
  z,axisLine:{show:true,onZero:false,lineStyle:{color:'#000',width:2}},
  axisTick:{show:true,length:12,lineStyle:{color:'#000',width:1.7}},
  axisLabel:{color:INK,fontFamily:FONT,fontSize:18.5,margin},
  nameLocation:'middle',nameTextStyle:{color:INK,fontFamily:FONT}
}}
const gridLine={show:true,lineStyle:{color:'#e6e6e6',type:[4,3],width:1}};

function densityPanel(left,yTicks,yMax,nameA,a,colA,nameB,b,colB,legX,legY,fmt,gap){
  const i=grid.length;
  grid.push({left,top:66.7,width:321,height:187});
  const xc=axisCommon(16,1),yc=axisCommon(18,1);
  xc.axisTick.customValues=densityTicks;xc.axisLabel.customValues=densityTicks;
  yc.axisTick.customValues=yTicks;yc.axisLabel.customValues=yTicks;
  xAxis.push({...xc,gridIndex:i,type:'value',min:3.8,max:8.8,name:'Left-Right leaning',nameGap:41,nameTextStyle:{...xc.nameTextStyle,fontSize:18},splitLine:gridLine});
  yc.axisLabel.formatter=v=>v.toFixed(1);
  yAxis.push({...yc,gridIndex:i,type:'value',min:0,max:yMax,name:'Density',nameGap:52,nameTextStyle:{...yc.nameTextStyle,fontSize:20.5},splitLine:gridLine});
  const ser=(name,data,color,dash)=>({type:'line',name,xAxisIndex:i,yAxisIndex:i,data,smooth:.3,symbol:'none',lineStyle:{color,width:3,type:dash?[11,4.8]:'solid',cap:'butt'},itemStyle:{color},z:3,silent:true});
  series.push(ser(nameB,b,colB,true),ser(nameA,a,colA,false));
  legend.push({show:true,data:[{name:nameA,lineStyle:{width:3,type:'solid'}},{name:nameB,lineStyle:{width:3,type:[13,3,13,30]}}],orient:'vertical',left:legX,top:legY,itemWidth:34,itemHeight:14,itemGap:gap,padding:0,selectedMode:false,formatter:fmt,itemStyle:{opacity:0},lineStyle:{width:3},textStyle:{color:INK,fontFamily:FONT,fontSize:14.5,rich:legendRich}});
}
densityPanel(83,noteYTicks,1.113,'θn<0',noteNeg,BLUE,'θn>0',notePos,RED,196.7,81,
  n=>'{pad|}'+(n==='θn<0'?theta('n','<'):theta('n','>')),9.5);
densityPanel(531.7,raterYTicks,1.68,'Rated Helpful',leftHelpful,GREEN,'Rated Not Helpful',leftNot,MAG,601.7,81,rated,11);
densityPanel(980.7,raterYTicks,1.68,'Rated Helpful ',rightHelpful,GREEN,'Rated Not Helpful ',rightNot,MAG,1050.7,81,rated,11);

const annRich={
  d:{fontFamily:MATH,fontStyle:'italic',fontSize:20,color:'#000',textBorderColor:'#fff',textBorderWidth:3},
  ds:{fontFamily:MATH,fontSize:12.5,color:'#000',textBorderColor:'#fff',textBorderWidth:3,verticalAlign:'bottom',lineHeight:20,padding:[6,0,0,0]},
  cn:{fontFamily:FONT,fontSize:18,color:'#000',textBorderColor:'#fff',textBorderWidth:3},
  th:{fontFamily:MATH,fontStyle:'italic',fontSize:14.5,color:INK},
  sub:{fontFamily:MATH,fontStyle:'italic',fontSize:10.5,color:INK,verticalAlign:'bottom',lineHeight:14.5,padding:[5,0,0,0]},
  op:{fontFamily:FONT,fontSize:14.5,color:INK}
};
function scatterPanel(left,width,pink,slate,layers,arrows,labels){
  const i=grid.length;
  grid.push({left,top:377.7,width,height:196.6});
  const xc=axisCommon(18,10),yc=axisCommon(18,10);
  xAxis.push({...xc,gridIndex:i,type:'value',min:0,max:10,interval:2,name:'Left-Right',nameGap:41,nameTextStyle:{...xc.nameTextStyle,fontSize:17.8},splitLine:{show:false}});
  yAxis.push({...yc,gridIndex:i,type:'value',min:0,max:10,interval:2,name:'Anti-Elite',nameGap:47.5,nameTextStyle:{...yc.nameTextStyle,fontSize:18.4},splitLine:{show:false}});
  const poly=(pts,fill)=>({type:'custom',xAxisIndex:i,yAxisIndex:i,silent:true,z:1,data:[[0,0]],
    renderItem:(p,api)=>({type:'polygon',shape:{points:pts.map(q=>api.coord(q))},style:{fill}})});
  series.push(poly(pink,'#f3bfc0'),poly(slate,'#ccd4e4'));
  layers.forEach(([rows,color],k)=>series.push({type:'scatter',xAxisIndex:i,yAxisIndex:i,silent:true,z:2+k*.1,data:expand(rows),symbolSize:5,itemStyle:{color,opacity:.82}}));
  series.push({type:'lines',coordinateSystem:'cartesian2d',xAxisIndex:i,yAxisIndex:i,silent:true,z:4,symbol:['none','arrow'],symbolSize:[0,7],
    lineStyle:{color:'#000',width:1.5,opacity:1},data:arrows.map(a=>({coords:[[a[0],a[1]],[a[2],a[3]]]}))});
  series.push({type:'scatter',xAxisIndex:i,yAxisIndex:i,silent:true,z:5,symbolSize:0,
    data:labels.map(l=>({value:[l[0],l[1]],label:{show:true,position:'inside',formatter:l[2],rich:annRich}}))});
}
const delta='{d|δ}{ds|1}', cn='{cn|CN}', tp=theta('n','>'), tn=theta('n','<');
scatterPanel(83.3,221,ukPink,ukSlate,[[ukBlueBack.concat(ukBlueFill),BLUE],[ukRed.concat(ukRedFill),RED],[ukBlueFront,BLUE]],ukArrows,
  [[9.1,7,delta],[9.4,5.5,cn],[1.4,9.24,tp],[8.5,1.2,tn]]);
scatterPanel(416,220.3,jpPink,jpSlate,[[jpBlueBack,BLUE],[jpRed.concat(jpRedFill),RED],[jpBlueFront,BLUE]],jpArrows,
  [[7.87,2.3,delta],[9.03,3.44,cn],[1.4,9.24,tp],[8.5,1.2,tn]]);
scatterPanel(747.7,221,frPink,frSlate,[[frBlue.concat(frBlueFill),BLUE],[frRed,RED],[frRedTop,RED]],frArrows,
  [[9.43,5.2,delta],[9.33,7.05,cn],[1.4,9.24,tp],[8.5,1.2,tn]]);
scatterPanel(1080,221,brPink,brSlate,[[brBlueBack,BLUE],[brRed.concat(brRedFill),RED],[brBlueFront,BLUE]],brArrows,
  [[8.5,3.52,delta],[8.7,2.03,cn],[1.4,9.24,tp],[8.5,1.2,tn]]);

const head=(text,x,y,size,extra)=>({text,left:x,top:y-size*.45,textAlign:'center',padding:0,textStyle:{color:INK,fontFamily:FONT,fontSize:size,fontWeight:'normal',...extra}});
title.push(head('Note latent ideology (US)',231.7,15,20.8),head('Rater latent ideology (US)',917.5,15,20.8));
const bigRich={th:{fontFamily:MATH,fontStyle:'italic',fontSize:18.5,color:INK},sub:{fontFamily:MATH,fontStyle:'italic',fontSize:12,color:INK,verticalAlign:'bottom',lineHeight:18.5,padding:[6,0,0,0]},op:{fontFamily:FONT,fontSize:19,color:INK}};
title.push(head('{th|θ}{sub|r}{op| < 0}',691.7,50,19,{rich:bigRich}),head('{th|θ}{sub|r}{op| > 0}',1140,50,19,{rich:bigRich}));
panelLetters.forEach(([t,x,y])=>title.push(head(t,x,y,22.5,{fontWeight:'bold',color:'#000'})));
countries.forEach(([n,a,x])=>title.push(head(n,x,340,20.5),head(a,x,363,15.8)));

const chart=echarts.init(document.getElementById('c'),null,{renderer:'canvas',width:1332,height:639});
chart.setOption({animation:false,backgroundColor:'#fff',textStyle:{fontFamily:FONT},title,legend,grid,xAxis,yAxis,series});
</script></body></html>
